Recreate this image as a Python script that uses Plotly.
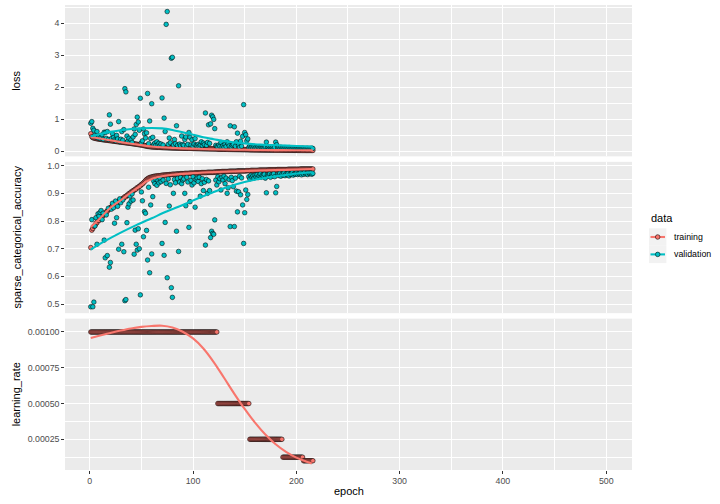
import plotly.graph_objects as go
from plotly.subplots import make_subplots

# ---------------- data ----------------
epochs = list(range(1, 217))

train_loss = [
    0.552, 0.458, 0.431, 0.418, 0.409, 0.401, 0.396, 0.389, 0.384, 0.378,
    0.374, 0.369, 0.365, 0.360, 0.356, 0.352, 0.347, 0.343, 0.339, 0.335,
    0.331, 0.326, 0.322, 0.318, 0.313, 0.309, 0.304, 0.300, 0.296, 0.291,
    0.287, 0.283, 0.278, 0.274, 0.269, 0.265, 0.261, 0.256, 0.252, 0.247,
    0.243, 0.238, 0.233, 0.229, 0.224, 0.219, 0.214, 0.209, 0.204, 0.199,
    0.193, 0.187, 0.180, 0.172, 0.165, 0.158, 0.153, 0.149, 0.145, 0.142,
    0.139, 0.137, 0.134, 0.132, 0.130, 0.128, 0.126, 0.124, 0.122, 0.121,
    0.119, 0.118, 0.117, 0.116, 0.115, 0.113, 0.112, 0.111, 0.110, 0.109,
    0.108, 0.107, 0.106, 0.105, 0.104, 0.103, 0.102, 0.101, 0.100, 0.099,
    0.098, 0.097, 0.096, 0.095, 0.094, 0.094, 0.093, 0.092, 0.091, 0.090,
    0.089, 0.089, 0.088, 0.087, 0.086, 0.086, 0.085, 0.084, 0.084, 0.083,
    0.082, 0.082, 0.081, 0.080, 0.080, 0.079, 0.078, 0.078, 0.077, 0.077,
    0.076, 0.075, 0.075, 0.068, 0.067, 0.066, 0.066, 0.065, 0.065, 0.064,
    0.064, 0.063, 0.063, 0.062, 0.062, 0.061, 0.061, 0.060, 0.060, 0.059,
    0.059, 0.058, 0.058, 0.057, 0.057, 0.056, 0.056, 0.055, 0.055, 0.054,
    0.054, 0.053, 0.053, 0.052, 0.049, 0.048, 0.048, 0.047, 0.047, 0.046,
    0.046, 0.046, 0.045, 0.045, 0.044, 0.044, 0.044, 0.043, 0.043, 0.043,
    0.042, 0.042, 0.042, 0.041, 0.041, 0.041, 0.040, 0.040, 0.040, 0.039,
    0.039, 0.039, 0.038, 0.038, 0.038, 0.038, 0.036, 0.036, 0.036, 0.035,
    0.035, 0.035, 0.035, 0.034, 0.034, 0.034, 0.034, 0.033, 0.033, 0.033,
    0.033, 0.032, 0.032, 0.032, 0.032, 0.031, 0.031, 0.031, 0.031, 0.030,
    0.030, 0.030, 0.030, 0.030, 0.029, 0.029,
]

val_loss = [
    0.88, 0.93, 0.72, 0.66, 0.50, 0.45, 0.62, 0.42, 0.48, 0.40,
    0.44, 0.52, 0.38, 0.60, 0.59, 0.41, 0.62, 0.37, 1.14, 0.85,
    0.40, 0.55, 0.43, 0.36, 0.33, 0.50, 0.39, 0.93, 0.31, 0.38,
    0.62, 0.35, 0.68, 1.96, 1.86, 0.48, 0.32, 0.41, 0.29, 0.36,
    0.28, 0.45, 0.70, 0.53, 0.84, 1.07, 0.92, 0.66, 1.66, 0.27,
    0.33, 0.70, 0.55, 0.42, 0.58, 1.81, 0.24, 0.95, 0.40, 1.49,
    0.44, 0.22, 0.26, 0.19, 0.30, 0.21, 0.25, 0.18, 0.23, 1.67,
    0.20, 1.04, 0.62, 3.97, 4.37, 0.22, 0.42, 0.27, 2.91, 2.94,
    0.20, 0.37, 0.24, 0.80, 0.19, 2.05, 0.23, 0.18, 0.48, 0.21,
    0.19, 0.37, 0.45, 0.17, 0.22, 0.59, 0.44, 0.20, 0.36, 0.16,
    0.23, 0.40, 0.19, 0.17, 0.22, 0.16, 0.20, 0.30, 0.18, 0.26,
    0.21, 1.20, 0.19, 0.28, 0.83, 0.25, 0.86, 1.13, 1.08, 1.00,
    0.71, 0.19, 0.15, 0.14, 0.20, 0.16, 0.28, 0.14, 0.18, 0.13,
    0.22, 0.15, 0.30, 0.24, 0.17, 0.80, 0.14, 0.19, 0.22, 0.77,
    0.16, 0.30, 0.57, 0.18, 0.13, 0.32, 0.16, 0.47, 1.46, 0.59,
    0.52, 0.33, 0.39, 0.13, 0.16, 0.12, 0.14, 0.11, 0.15, 0.11,
    0.13, 0.10, 0.14, 0.11, 0.09, 0.13, 0.11, 0.12, 0.10, 0.14,
    0.29, 0.11, 0.12, 0.09, 0.13, 0.10, 0.12, 0.09, 0.13, 0.29,
    0.21, 0.11, 0.12, 0.09, 0.13, 0.10, 0.11, 0.09, 0.12, 0.10,
    0.11, 0.09, 0.12, 0.10, 0.10, 0.09, 0.11, 0.10, 0.10, 0.09,
    0.10, 0.09, 0.10, 0.08, 0.10, 0.09, 0.10, 0.08, 0.09, 0.09,
    0.10, 0.08, 0.09, 0.09, 0.10, 0.09,
]

train_acc = [
    0.704, 0.767, 0.773, 0.781, 0.784, 0.791, 0.794, 0.801, 0.802, 0.809,
    0.811, 0.817, 0.819, 0.825, 0.827, 0.833, 0.835, 0.841, 0.843, 0.849,
    0.851, 0.856, 0.857, 0.862, 0.863, 0.867, 0.867, 0.872, 0.872, 0.877,
    0.878, 0.882, 0.883, 0.888, 0.888, 0.893, 0.894, 0.899, 0.900, 0.905,
    0.905, 0.910, 0.911, 0.915, 0.916, 0.921, 0.921, 0.926, 0.927, 0.932,
    0.934, 0.938, 0.942, 0.946, 0.950, 0.953, 0.955, 0.957, 0.958, 0.959,
    0.960, 0.961, 0.962, 0.962, 0.963, 0.963, 0.964, 0.964, 0.965, 0.965,
    0.966, 0.966, 0.966, 0.967, 0.967, 0.967, 0.968, 0.968, 0.968, 0.969,
    0.969, 0.969, 0.969, 0.970, 0.970, 0.970, 0.970, 0.971, 0.971, 0.971,
    0.971, 0.972, 0.972, 0.972, 0.972, 0.972, 0.973, 0.973, 0.973, 0.973,
    0.973, 0.974, 0.974, 0.974, 0.974, 0.974, 0.974, 0.975, 0.975, 0.975,
    0.975, 0.975, 0.975, 0.976, 0.976, 0.976, 0.976, 0.976, 0.976, 0.976,
    0.977, 0.977, 0.977, 0.978, 0.978, 0.978, 0.978, 0.979, 0.979, 0.979,
    0.979, 0.979, 0.979, 0.979, 0.980, 0.980, 0.980, 0.980, 0.980, 0.980,
    0.980, 0.980, 0.981, 0.981, 0.981, 0.981, 0.981, 0.981, 0.981, 0.981,
    0.981, 0.982, 0.982, 0.982, 0.982, 0.983, 0.983, 0.983, 0.983, 0.983,
    0.983, 0.983, 0.983, 0.984, 0.984, 0.984, 0.984, 0.984, 0.984, 0.984,
    0.984, 0.984, 0.985, 0.985, 0.985, 0.985, 0.985, 0.985, 0.985, 0.985,
    0.985, 0.986, 0.986, 0.986, 0.986, 0.986, 0.986, 0.986, 0.986, 0.986,
    0.986, 0.987, 0.987, 0.987, 0.987, 0.987, 0.987, 0.987, 0.987, 0.987,
    0.987, 0.987, 0.987, 0.988, 0.988, 0.988, 0.988, 0.988, 0.988, 0.988,
    0.988, 0.988, 0.988, 0.988, 0.988, 0.988,
]

val_acc = [
    0.490, 0.805, 0.490, 0.507, 0.782, 0.812, 0.716, 0.826, 0.818, 0.831,
    0.838, 0.805, 0.828, 0.731, 0.667, 0.822, 0.675, 0.846, 0.633, 0.650,
    0.843, 0.864, 0.848, 0.792, 0.872, 0.812, 0.853, 0.698, 0.880, 0.866,
    0.716, 0.876, 0.689, 0.512, 0.516, 0.794, 0.850, 0.862, 0.890, 0.872,
    0.898, 0.876, 0.680, 0.767, 0.716, 0.695, 0.772, 0.700, 0.533, 0.905,
    0.873, 0.743, 0.834, 0.828, 0.766, 0.659, 0.922, 0.613, 0.858, 0.681,
    0.888, 0.944, 0.935, 0.951, 0.929, 0.946, 0.938, 0.955, 0.942, 0.719,
    0.948, 0.676, 0.795, 0.936, 0.595, 0.952, 0.854, 0.931, 0.559, 0.524,
    0.900, 0.950, 0.938, 0.763, 0.954, 0.690, 0.941, 0.957, 0.935, 0.948,
    0.952, 0.900, 0.855, 0.958, 0.941, 0.777, 0.870, 0.947, 0.930, 0.960,
    0.938, 0.850, 0.950, 0.955, 0.943, 0.958, 0.890, 0.935, 0.953, 0.910,
    0.940, 0.713, 0.950, 0.900, 0.945, 0.910, 0.740, 0.763, 0.755, 0.752,
    0.804, 0.948, 0.930, 0.960, 0.942, 0.953, 0.912, 0.958, 0.948, 0.962,
    0.935, 0.955, 0.900, 0.920, 0.950, 0.780, 0.958, 0.946, 0.924, 0.780,
    0.955, 0.908, 0.833, 0.906, 0.962, 0.895, 0.956, 0.858, 0.719, 0.830,
    0.912, 0.878, 0.896, 0.960, 0.952, 0.965, 0.958, 0.963, 0.955, 0.966,
    0.960, 0.968, 0.957, 0.964, 0.970, 0.958, 0.965, 0.962, 0.969, 0.955,
    0.902, 0.966, 0.963, 0.970, 0.958, 0.967, 0.964, 0.971, 0.960, 0.902,
    0.925, 0.968, 0.965, 0.972, 0.962, 0.969, 0.966, 0.973, 0.964, 0.970,
    0.967, 0.972, 0.963, 0.970, 0.968, 0.974, 0.966, 0.971, 0.969, 0.973,
    0.968, 0.972, 0.970, 0.974, 0.967, 0.973, 0.969, 0.975, 0.970, 0.972,
    0.968, 0.974, 0.971, 0.973, 0.969, 0.972,
]

# learning rate schedule (value and last epoch of each plateau)
lr_steps = [0.001, 0.0005, 0.00025, 0.000125, 0.0001]
lr_step_last_epoch = [123, 154, 186, 206, 216]

# loess-smoothed curves
train_loss_smooth_epochs = [1, 10, 20, 30, 40, 50, 60, 70, 80, 90, 105, 120, 140, 160, 180, 200, 216]
smooth_train_loss = [0.45, 0.40, 0.345, 0.29, 0.24, 0.195, 0.155, 0.127, 0.108, 0.095, 0.08, 0.068, 0.056,
                     0.047, 0.040, 0.034, 0.030]
val_loss_smooth_epochs = [1, 10, 20, 30, 40, 50, 60, 70, 80, 90, 100, 110, 120, 130, 140, 150, 165, 180, 200, 216]
smooth_val_loss = [0.47, 0.54, 0.61, 0.66, 0.70, 0.72, 0.73, 0.72, 0.67, 0.60, 0.52, 0.44, 0.38, 0.32, 0.28, 0.25,
                   0.21, 0.19, 0.17, 0.15]
train_acc_smooth_epochs = [1, 10, 20, 30, 40, 50, 55, 60, 65, 70, 80, 100, 130, 160, 190, 216]
smooth_train_acc = [0.778, 0.810, 0.848, 0.875, 0.903, 0.930, 0.943, 0.952, 0.958, 0.962, 0.967, 0.973, 0.978,
                    0.982, 0.985, 0.988]
val_acc_smooth_epochs = [1, 15, 30, 45, 60, 75, 90, 105, 120, 135, 150, 165, 180, 195, 216]
smooth_val_acc = [0.697, 0.728, 0.758, 0.785, 0.810, 0.835, 0.858, 0.882, 0.905, 0.925, 0.941, 0.953, 0.962,
                  0.969, 0.976]

lr_smooth_epochs = [1, 10, 20, 30, 40, 50, 60, 70, 80, 90, 100, 110, 120, 130, 140, 150, 160, 170, 180, 190,
                    200, 210, 215]
lr_smooth_values = [0.000958, 0.000975, 0.000993, 0.00101, 0.001025, 0.001036, 0.001042, 0.001044, 0.001032,
                    0.001002, 0.000955, 0.000885, 0.00079, 0.00068, 0.000568, 0.000462, 0.000366, 0.000283,
                    0.000215, 0.000162, 0.000122, 0.000093, 0.00008]

x_ticks = [0, 100, 200, 300, 400, 500]
x_ticktext = ["0", "100", "200", "300", "400", "500"]
x_minor = [50, 150, 250, 350, 450]
loss_ticks = [0, 1, 2, 3, 4]
loss_ticktext = ["0", "1", "2", "3", "4"]
loss_minor = [0.5, 1.5, 2.5, 3.5, 4.5]
acc_ticks = [0.5, 0.6, 0.7, 0.8, 0.9, 1.0]
acc_ticktext = ["0.5", "0.6", "0.7", "0.8", "0.9", "1.0"]
acc_minor = [0.55, 0.65, 0.75, 0.85, 0.95]
lr_ticks = [0.00025, 0.0005, 0.00075, 0.001]
lr_ticktext = ["0.00025", "0.00050", "0.00075", "0.00100"]
lr_minor = [0.000125, 0.000375, 0.000625, 0.000875]

series_names = ["training", "validation"]
metric_names = ["loss", "sparse_categorical_accuracy", "learning_rate"]

# expand learning-rate plateaus to per-epoch values
train_lr = []
start = 1
for val, last in zip(lr_steps, lr_step_last_epoch):
    train_lr += [val] * (last - start + 1)
    start = last + 1

assert len(train_loss) == len(val_loss) == len(train_acc) == len(val_acc) == len(train_lr) == len(epochs)

# ---------------- styling ----------------
C_TRAIN = "#F8766D"
C_VAL = "#00BFC4"
W, H = 720, 504
ML, MR, MT, MB = 65, 88, 5, 34
PW, PH = W - ML - MR, H - MT - MB

fig = make_subplots(rows=3, cols=1, shared_xaxes=True, vertical_spacing=0.0118)


def add_points(x, y, color, row):
    fig.add_trace(go.Scatter(x=x, y=y, mode="markers",
                             marker=dict(size=4.6, color=color, line=dict(color="black", width=0.55)),
                             showlegend=False, hoverinfo="skip"), row=row, col=1)


def add_smooth(x, y, color, row):
    fig.add_trace(go.Scatter(x=x, y=y, mode="lines",
                             line=dict(color=color, width=2.1, shape="spline", smoothing=1.0),
                             showlegend=False, hoverinfo="skip"), row=row, col=1)


add_points(epochs, train_loss, C_TRAIN, 1)
add_points(epochs, val_loss, C_VAL, 1)
add_smooth(train_loss_smooth_epochs, smooth_train_loss, C_TRAIN, 1)
add_smooth(val_loss_smooth_epochs, smooth_val_loss, C_VAL, 1)

add_points(epochs, train_acc, C_TRAIN, 2)
add_points(epochs, val_acc, C_VAL, 2)
add_smooth(train_acc_smooth_epochs, smooth_train_acc, C_TRAIN, 2)
add_smooth(val_acc_smooth_epochs, smooth_val_acc, C_VAL, 2)

add_points(epochs, train_lr, C_TRAIN, 3)
add_smooth(lr_smooth_epochs, lr_smooth_values, C_TRAIN, 3)

FONT = "Liberation Sans, Arial, Helvetica, sans-serif"
grid = dict(showgrid=True, gridcolor="white", gridwidth=1.07, zeroline=False, showline=False, automargin=False)
tick_style = dict(ticks="outside", ticklen=2.75, tickwidth=1.07, tickcolor="#333333",
                  tickfont=dict(family=FONT, size=8.8, color="#4D4D4D"))

x_range = [-23.95, 524.95]
for i in (1, 2, 3):
    xa = dict(range=x_range, **grid,
              minor=dict(tickvals=x_minor, showgrid=True, gridcolor="white", gridwidth=0.53, ticks=""))
    if i == 3:
        xa.update(tickvals=x_ticks, ticktext=x_ticktext, **tick_style)
    else:
        xa.update(showticklabels=False, ticks="")
    fig.update_xaxes(xa, row=i, col=1)

fig.update_yaxes(dict(range=[-0.155, 4.575], tickvals=loss_ticks, ticktext=loss_ticktext, domain=[0.67455, 1.0],
                      minor=dict(tickvals=loss_minor, showgrid=True, gridcolor="white", gridwidth=0.53, ticks=""),
                      **grid, **tick_style), row=1, col=1)
fig.update_yaxes(dict(range=[0.4669, 1.0139], tickvals=acc_ticks, ticktext=acc_ticktext, domain=[0.33727, 0.66273],
                      minor=dict(tickvals=acc_minor, showgrid=True, gridcolor="white", gridwidth=0.53, ticks=""),
                      **grid, **tick_style), row=2, col=1)
fig.update_yaxes(dict(range=[0.0000354, 0.0010932], tickvals=lr_ticks, ticktext=lr_ticktext, domain=[0.0, 0.32545],
                      minor=dict(tickvals=lr_minor, showgrid=True, gridcolor="white", gridwidth=0.53, ticks=""),
                      **grid, **tick_style), row=3, col=1)


def px_x(px):
    return (px - ML) / PW


def px_y(py):
    return (MT + PH - py) / PH


annotations = []
panel_centers = [(5 + 156.33) / 2, (161.83 + 313.17) / 2, (318.67 + 470) / 2]
for name, cy in zip(metric_names, panel_centers):
    annotations.append(dict(text=name, x=px_x(16), y=px_y(cy), xref="paper", yref="paper",
                            textangle=-90, showarrow=False, xanchor="center", yanchor="middle",
                            font=dict(family=FONT, size=11, color="black")))
annotations.append(dict(text="epoch", x=px_x(348.5), y=px_y(491), xref="paper", yref="paper",
                        showarrow=False, xanchor="center", yanchor="middle",
                        font=dict(family=FONT, size=11, color="black")))
# legend (drawn manually to mimic ggplot2 keys)
annotations.append(dict(text="data", x=px_x(649), y=px_y(218), xref="paper", yref="paper",
                        showarrow=False, xanchor="left", yanchor="middle",
                        font=dict(family=FONT, size=11, color="black")))
shapes = []
key_top = 228.3
key_size = 17.4
for k, (name, col) in enumerate(zip(series_names, [C_TRAIN, C_VAL])):
    y0 = key_top + k * key_size
    yc = y0 + key_size / 2
    shapes.append(dict(type="rect", xref="paper", yref="paper", x0=px_x(649), x1=px_x(649 + key_size),
                       y0=px_y(y0 + key_size), y1=px_y(y0), fillcolor="#F2F2F2", line=dict(width=0), layer="above"))
    shapes.append(dict(type="line", xref="paper", yref="paper", x0=px_x(650.5), x1=px_x(665),
                       y0=px_y(yc), y1=px_y(yc), line=dict(color=col, width=2.1)))
    shapes.append(dict(type="circle", xref="paper", yref="paper", xsizemode="pixel", ysizemode="pixel",
                       xanchor=px_x(649 + key_size / 2), yanchor=px_y(yc), x0=-2.3, x1=2.3, y0=-2.3, y1=2.3,
                       fillcolor=col, line=dict(color="black", width=0.55)))
    annotations.append(dict(text=name, x=px_x(672), y=px_y(yc), xref="paper", yref="paper",
                            showarrow=False, xanchor="left", yanchor="middle",
                            font=dict(family=FONT, size=8.8, color="black")))

fig.update_layout(width=W, height=H, margin=dict(l=ML, r=MR, t=MT, b=MB, autoexpand=False),
                  paper_bgcolor="white", plot_bgcolor="#EBEBEB", showlegend=False,
                  font=dict(family=FONT, size=8.8, color="#4D4D4D"),
                  annotations=annotations, shapes=shapes)

fig.write_html("out.html")
